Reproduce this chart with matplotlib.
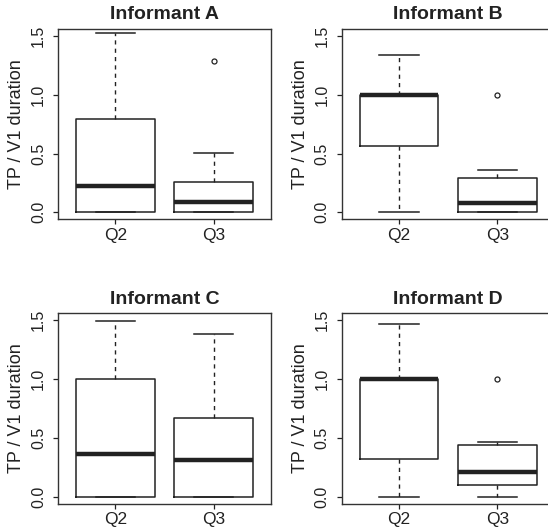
import matplotlib
matplotlib.use("Agg")
import matplotlib.pyplot as plt

plt.rcParams['font.family'] = ['Liberation Sans', 'DejaVu Sans']

# data (five-number summaries per informant)
informants = ['Informant A', 'Informant B', 'Informant C', 'Informant D']
groups = ['Q2', 'Q3']
whislo = [[0.0, 0.0], [0.0, 0.0], [0.0, 0.0], [0.0, 0.0]]
q1 = [[0.0, 0.0], [0.56, 0.0], [0.0, 0.0], [0.32, 0.095]]
med = [[0.22, 0.088], [1.0, 0.078], [0.365, 0.31], [1.0, 0.21]]
q3 = [[0.795, 0.255], [1.0, 0.295], [1.0, 0.665], [1.0, 0.44]]
whishi = [[1.525, 0.505], [1.335, 0.362], [1.495, 1.382], [1.47, 0.463]]
fliers = [[[], [1.29]], [[], [1.0]], [[], []], [[], [1.0]]]
yticks = [0.0, 0.5, 1.0, 1.5]

W, H = 548, 527
fig = plt.figure(figsize=(W / 100, H / 100), dpi=100)

# axes boxes in pixels: left, top
boxes = [(58.3, 29.0), (342.0, 29.0), (58.3, 313.3), (342.0, 313.3)]
aw, ah = 212.4, 190.3
ink = '#222222'

for i, name in enumerate(informants):
    left, top = boxes[i]
    ax = fig.add_axes([left / W, 1 - (top + ah) / H, aw / W, ah / H])
    stats = []
    for j, g in enumerate(groups):
        stats.append(dict(label=g, whislo=whislo[i][j], q1=q1[i][j], med=med[i][j],
                          q3=q3[i][j], whishi=whishi[i][j], fliers=fliers[i][j]))
    ax.bxp(stats, positions=[1, 2], widths=0.8, capwidths=0.4,
           boxprops=dict(color=ink, linewidth=1.1),
           medianprops=dict(color=ink, linewidth=3.2, solid_capstyle='butt'),
           whiskerprops=dict(color=ink, linewidth=1.0, linestyle=(0, (3, 3))),
           capprops=dict(color=ink, linewidth=1.1),
           flierprops=dict(marker='o', markersize=3.6, markerfacecolor='none',
                           markeredgecolor=ink, markeredgewidth=0.9))
    ax.set_xlim(0.42, 2.58)
    ax.set_ylim(-0.06, 1.56)
    ax.set_yticks(yticks)
    ax.set_yticklabels(['%.1f' % v for v in yticks], rotation=90, va='center')
    ax.tick_params(direction='out', length=3.8, width=0.9, color=ink,
                   labelcolor=ink)
    ax.tick_params(axis='y', pad=5, labelsize=11.5)
    ax.tick_params(axis='x', pad=2.5, labelsize=12.5)
    for s in ax.spines.values():
        s.set_linewidth(1.0)
        s.set_color('#333333')
    ax.set_title(name, fontsize=14, fontweight='bold', pad=7, color=ink)
    ax.set_ylabel('TP / V1 duration', fontsize=13, color=ink)
    ax.yaxis.set_label_coords(-0.155, 0.5)

fig.savefig('out.png', dpi=100)
